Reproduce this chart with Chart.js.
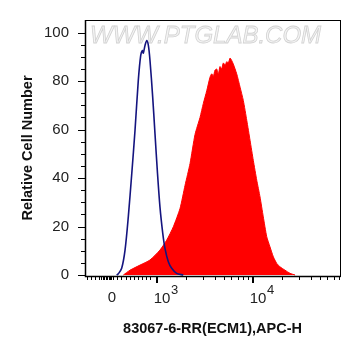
<!DOCTYPE html>
<html>
<head>
<meta charset="utf-8">
<script src="https://cdn.jsdelivr.net/npm/chart.js@4/dist/chart.umd.min.js"></script>
<style>
  html, body { margin: 0; padding: 0; background: #fff; }
  #wrap { width: 361px; height: 356px; }
</style>
</head>
<body>
<div id="wrap"><canvas id="c"></canvas></div>
<script>
// x values are display positions in decades (3 = 10^3, 4 = 10^4)
const ZERO_POS = 2.534;

const blueX = [2.583, 2.600, 2.635, 2.670, 2.704, 2.740, 2.774, 2.808, 2.833, 2.850, 2.860, 2.868, 2.878, 2.896,
  2.913, 2.930, 2.958, 2.982, 3.006, 3.034, 3.063, 3.086, 3.121, 3.156, 3.208, 3.277];
const blueY = [0, 0.5, 2.8, 10.3, 24, 41.8, 59.7, 80.2, 90.5, 92.6, 91.5, 92.8, 94.7, 96.7,
  94.7, 88.5, 73.4, 58.3, 43.2, 28, 17.2, 11, 5.5, 2.8, 0.7, 0];

const redX = [2.652, 2.722, 2.826, 2.930, 3.034, 3.104, 3.173, 3.243, 3.295, 3.347, 3.399, 3.451, 3.485, 3.521,
  3.555, 3.573, 3.590, 3.607, 3.625, 3.642, 3.659, 3.676, 3.694, 3.712, 3.729, 3.746, 3.764, 3.781, 3.798,
  3.833, 3.868, 3.902, 3.938, 3.972, 4.006, 4.042, 4.076, 4.110, 4.146, 4.180, 4.215, 4.250, 4.284, 4.336,
  4.389, 4.441];
const redY = [0, 2, 4.1, 6.2, 10.3, 14.4, 19.9, 27.5, 37, 46, 58, 65, 70.7, 76,
  81.6, 83, 82, 84.5, 85, 83, 86, 85, 87.5, 86.5, 88, 87.5, 89.5, 88.5, 87,
  83, 77.5, 72, 63.8, 55.6, 47.3, 39.1, 32.2, 24, 15.8, 11.6, 7.5, 4.8, 3.4, 2,
  0.7, 0];

const yTicks = [0, 5, 10, 15, 20, 25, 30, 35, 40, 45, 50, 55, 60, 65, 70, 75, 80, 85, 90, 95, 100];
const xMajor = [3, 4];
const xMinorLow = [2.274, 2.316, 2.357, 2.399, 2.420, 2.436, 2.451, 2.467, 2.482, 2.498, 2.514, 2.529, 2.545,
  2.586, 2.633, 2.680, 2.722, 2.764, 2.805, 2.847, 2.889, 2.935];
const xMinorMult = [2, 3, 4, 5, 6, 7, 8, 9];
const xLabels = [
  { pos: ZERO_POS, base: '0', exp: '' },
  { pos: 3, base: '10', exp: '3' },
  { pos: 4, base: '10', exp: '4' }
];

const FONT = '"Liberation Sans", Arial, sans-serif';

const decor = {
  id: 'decor',
  beforeDatasetsDraw(chart) {
    const { ctx, chartArea: a } = chart;
    ctx.save();
    ctx.font = 'italic 24px ' + FONT;
    ctx.textBaseline = 'alphabetic';
    ctx.textAlign = 'left';
    ctx.fillStyle = '#f4f4f4';
    ctx.strokeStyle = '#d2d2d2';
    ctx.lineWidth = 0.8;
    ctx.fillText('WWW.PTGLAB.COM', a.left + 5, 43);
    ctx.strokeText('WWW.PTGLAB.COM', a.left + 5, 43);
    ctx.restore();
  },
  afterDraw(chart) {
    const { ctx, chartArea: a, scales: { x, y } } = chart;
    ctx.save();
    ctx.strokeStyle = '#000';
    ctx.lineWidth = 1;
    ctx.strokeRect(a.left + 0.5, a.top + 0.5, a.right - a.left, a.bottom - a.top);
    ctx.lineWidth = 1.5;
    ctx.beginPath();
    ctx.moveTo(a.left + 0.5, a.top);
    ctx.lineTo(a.left + 0.5, a.bottom + 0.5);
    ctx.lineTo(a.right + 0.5, a.bottom + 0.5);
    ctx.stroke();

    ctx.lineWidth = 1;
    ctx.beginPath();
    yTicks.forEach(v => {
      const py = Math.round(y.getPixelForValue(v)) + 0.5;
      const len = v % 20 === 0 ? 7 : 4;
      ctx.moveTo(a.left, py);
      ctx.lineTo(a.left - len, py);
    });
    const minor = xMinorLow.slice();
    xMajor.forEach(d => xMinorMult.forEach(k => minor.push(d + Math.log10(k))));
    minor.forEach(v => {
      if (v < x.min || v > x.max) return;
      const px = Math.round(x.getPixelForValue(v)) + 0.5;
      ctx.moveTo(px, a.bottom);
      ctx.lineTo(px, a.bottom + 4);
    });
    ctx.stroke();

    ctx.lineWidth = 2;
    ctx.beginPath();
    xMajor.forEach(v => {
      const px = Math.round(x.getPixelForValue(v));
      ctx.moveTo(px, a.bottom);
      ctx.lineTo(px, a.bottom + 7);
    });
    ctx.stroke();

    ctx.fillStyle = '#222';
    ctx.textBaseline = 'middle';
    xLabels.forEach(l => {
      const px = x.getPixelForValue(l.pos);
      ctx.font = '15px ' + FONT;
      if (!l.exp) {
        ctx.textAlign = 'center';
        ctx.fillText(l.base, px, 298);
      } else {
        ctx.textAlign = 'left';
        const x0 = px - 3;
        ctx.fillText(l.base, x0, 299);
        const w = ctx.measureText(l.base).width;
        ctx.font = '13px ' + FONT;
        ctx.fillText(l.exp, x0 + w + 0.5, 290);
      }
    });
    ctx.restore();
  }
};

new Chart(document.getElementById('c'), {
  type: 'line',
  data: {
    datasets: [
      {
        label: 'Isotype',
        data: blueX.map((v, i) => ({ x: v, y: blueY[i] })),
        borderColor: '#14147f',
        borderWidth: 1.6,
        pointRadius: 0,
        tension: 0.3,
        fill: false
      },
      {
        label: 'ECM1',
        data: redX.map((v, i) => ({ x: v, y: redY[i] })),
        borderColor: '#ff0000',
        backgroundColor: '#ff0000',
        borderWidth: 1,
        pointRadius: 0,
        tension: 0.2,
        fill: 'origin'
      }
    ]
  },
  plugins: [decor],
  options: {
    responsive: true,
    maintainAspectRatio: false,
    animation: false,
    layout: { padding: { left: 0, top: 20, right: 21, bottom: 0 } },
    plugins: {
      legend: { display: false },
      tooltip: { enabled: false }
    },
    scales: {
      x: {
        type: 'linear',
        min: 2.253,
        max: 4.909,
        grid: { display: false },
        border: { display: false },
        ticks: { display: false },
        title: {
          display: true,
          text: '83067-6-RR(ECM1),APC-H',
          color: '#111',
          font: { family: FONT, size: 14.5, weight: 'bold' },
          padding: { top: 0, bottom: 18 }
        },
        afterFit(scale) { scale.height = 80; }
      },
      y: {
        min: -0.4,
        max: 105.2,
        grid: { display: false },
        border: { display: false },
        afterBuildTicks(scale) {
          scale.ticks = yTicks.filter(v => v % 20 === 0).map(v => ({ value: v }));
        },
        ticks: {
          padding: 8,
          color: '#222',
          font: { family: FONT, size: 15 },
          callback: v => String(v)
        },
        title: {
          display: true,
          text: 'Relative Cell Number',
          color: '#111',
          font: { family: FONT, size: 14.5, weight: 'bold' },
          padding: { top: 19, bottom: 0 }
        },
        afterFit(scale) { scale.width = 85; }
      }
    }
  }
});
</script>
</body>
</html>
